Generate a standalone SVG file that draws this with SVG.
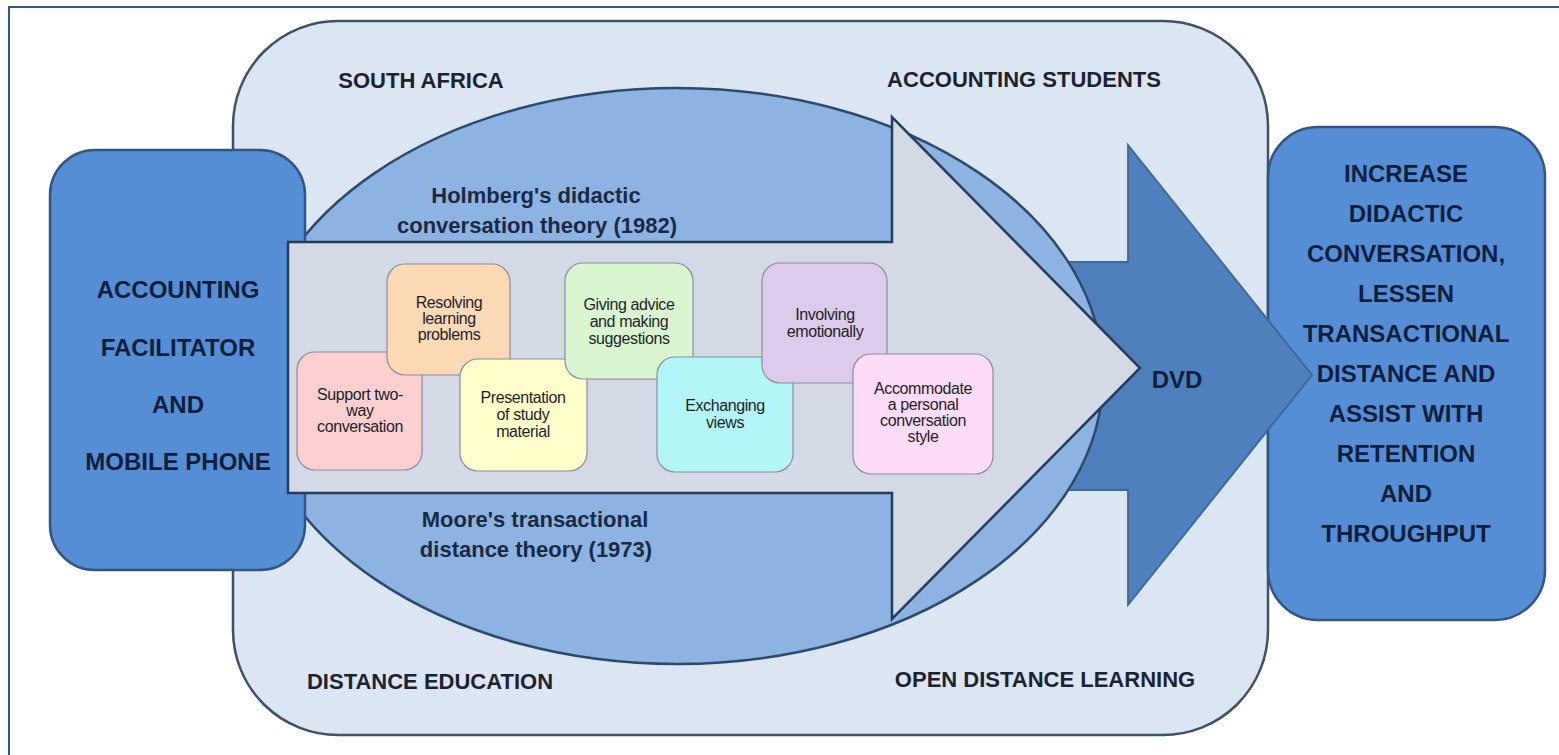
<svg xmlns="http://www.w3.org/2000/svg" width="1559" height="755" viewBox="0 0 1559 755">
<defs>
<style>
.lbl{font-family:"Liberation Sans",Arial,sans-serif;font-weight:bold;font-size:22px;fill:#1c2330;text-anchor:middle}
.big{font-family:"Liberation Sans",Arial,sans-serif;font-weight:bold;font-size:24px;fill:#0f1f3d;text-anchor:middle}
.th{font-family:"Liberation Sans",Arial,sans-serif;font-weight:bold;font-size:22px;fill:#1a2a44;text-anchor:middle}
.sm{font-family:"Liberation Sans",Arial,sans-serif;font-size:16px;fill:#1e1e28;text-anchor:middle;letter-spacing:-0.4px}
.card{stroke:#8c8c9c;stroke-width:1.2}
.blue{fill:#558ed5;stroke:#34557f;stroke-width:2.5}
</style>
</defs>
<rect width="1559" height="755" fill="#ffffff"/>
<path d="M9,755 V7 H1559" fill="none" stroke="#2f5597" stroke-width="2"/>

<g id="outer">
<rect x="233" y="21" width="1035" height="714" rx="105" ry="105" fill="#dce6f2" stroke="#3f5068" stroke-width="2.5"/>
<text class="lbl" x="421" y="88">SOUTH AFRICA</text>
<text class="lbl" x="1024" y="87">ACCOUNTING STUDENTS</text>
<text class="lbl" x="430" y="689">DISTANCE EDUCATION</text>
<text class="lbl" x="1045" y="687">OPEN DISTANCE LEARNING</text>
</g>

<g id="outcome">
<rect class="blue" x="1268" y="127" width="277" height="493" rx="50" ry="50"/>
<text class="big" x="1406" y="182">INCREASE</text>
<text class="big" x="1406" y="222">DIDACTIC</text>
<text class="big" x="1406" y="262">CONVERSATION,</text>
<text class="big" x="1406" y="302">LESSEN</text>
<text class="big" x="1406" y="342">TRANSACTIONAL</text>
<text class="big" x="1406" y="382">DISTANCE AND</text>
<text class="big" x="1406" y="422">ASSIST WITH</text>
<text class="big" x="1406" y="462">RETENTION</text>
<text class="big" x="1406" y="502">AND</text>
<text class="big" x="1406" y="542">THROUGHPUT</text>
</g>

<g id="connectors">
<g id="dvd-arrow">
<path d="M1000,262 H1128 V145 L1312,375 L1128,605 V490 H1000 Z" fill="#4e80bd" stroke="#3b6796" stroke-width="1.8"/>
<text class="big" x="1177" y="388">DVD</text>
</g>
</g>

<g id="theories">
<ellipse cx="677" cy="376" rx="426" ry="288" fill="#8db3e2" stroke="#2c4a6b" stroke-width="2.5"/>
<text class="th" x="536" y="203">Holmberg's didactic</text>
<text class="th" x="537" y="233">conversation theory (1982)</text>
<text class="th" x="535" y="527">Moore's transactional</text>
<text class="th" x="536" y="557">distance theory (1973)</text>
</g>

<g id="facilitator">
<rect class="blue" x="50" y="150" width="255" height="420" rx="45" ry="45"/>
<text class="big" x="178" y="298">ACCOUNTING</text>
<text class="big" x="178" y="356">FACILITATOR</text>
<text class="big" x="178" y="413">AND</text>
<text class="big" x="178" y="470">MOBILE PHONE</text>
</g>

<g id="main-arrow">
<path d="M288,242 H892 V117 L1140,368 L892,619 V493 H288 Z" fill="#d4d9e6" stroke="#263c5c" stroke-width="2.5"/>
</g>

<g id="card-support">
<rect class="card" x="297" y="352" width="125" height="118" rx="18" fill="#fcd0d0"/>
<text class="sm" x="360" y="400">Support two-</text>
<text class="sm" x="360" y="416">way</text>
<text class="sm" x="360" y="432">conversation</text>
</g>
<g id="card-resolving">
<rect class="card" x="387" y="264" width="123" height="111" rx="18" fill="#fdd9b6"/>
<text class="sm" x="449" y="308">Resolving</text>
<text class="sm" x="449" y="324">learning</text>
<text class="sm" x="449" y="340">problems</text>
</g>
<g id="card-presentation">
<rect class="card" x="460" y="359" width="127" height="112" rx="18" fill="#ffffcc"/>
<text class="sm" x="523" y="403">Presentation</text>
<text class="sm" x="523" y="420">of study</text>
<text class="sm" x="523" y="437">material</text>
</g>
<g id="card-advice">
<rect class="card" x="565" y="263" width="128" height="116" rx="18" fill="#d9f6d0"/>
<text class="sm" x="629" y="310">Giving advice</text>
<text class="sm" x="629" y="327">and making</text>
<text class="sm" x="629" y="344">suggestions</text>
</g>
<g id="card-exchanging">
<rect class="card" x="657" y="357" width="136" height="115" rx="18" fill="#b2f6f8"/>
<text class="sm" x="725" y="411">Exchanging</text>
<text class="sm" x="725" y="428">views</text>
</g>
<g id="card-involving">
<rect class="card" x="762" y="263" width="125" height="120" rx="18" fill="#dccbea"/>
<text class="sm" x="825" y="320">Involving</text>
<text class="sm" x="825" y="337">emotionally</text>
</g>
<g id="card-accommodate">
<rect class="card" x="853" y="354" width="140" height="120" rx="18" fill="#fcdcf6"/>
<text class="sm" x="923" y="394">Accommodate</text>
<text class="sm" x="923" y="410">a personal</text>
<text class="sm" x="923" y="426">conversation</text>
<text class="sm" x="923" y="442">style</text>
</g>
</svg>
